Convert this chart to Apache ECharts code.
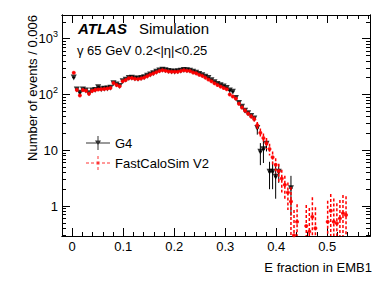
<!DOCTYPE html>
<html><head><meta charset="utf-8">
<script src="https://cdn.jsdelivr.net/npm/echarts@6/dist/echarts.min.js"></script>
<style>html,body{margin:0;padding:0;background:#fff}#c{width:390px;height:281px}</style>
</head><body><div id="c"></div>
<script>
// Bin centres (bin width 0.006)
const binCenters = [
 0.003,0.009,0.015,0.021,0.027,0.033,0.039,0.045,0.051,0.057,
 0.063,0.069,0.075,0.081,0.087,0.093,0.099,0.105,0.111,0.117,
 0.123,0.129,0.135,0.141,0.147,0.153,0.159,0.165,0.171,0.177,
 0.183,0.189,0.195,0.201,0.207,0.213,0.219,0.225,0.231,0.237,
 0.243,0.249,0.255,0.261,0.267,0.273,0.279,0.285,0.291,0.297,
 0.303,0.309,0.315,0.321,0.327,0.333,0.339,0.345,0.351,0.357,
 0.363,0.369,0.375,0.381,0.387,0.393,0.399,0.405,0.411,0.417,
 0.423,0.429,0.435,0.441,0.447,0.453,0.459,0.465,0.471,0.477,
 0.483,0.489,0.495,0.501,0.507,0.513,0.519,0.525,0.531,0.537];

const g4Values = [
 200,122,107,122,118,105,118,120,135,124,
 126,128,132,158,150,142,172,184,196,198,
 192,190,196,202,215,228,240,255,268,278,
 270,262,258,256,260,266,274,270,265,255,
 245,232,220,208,196,180,166,154,146,138,
 130,118,112,86,70,60,51,46,41,37,
 25,9.4,10.4,13,4.1,4.1,3.35,4.1,null,null,
 null,2.07,null,null,null,null,null,null,null,null,
 null,null,null,null,null,null,null,null,null,null];
const g4Errors = [
 10,6,6,6,6,6,6,6,7,6,
 6,6,6,7,7,7,7,7,7,7,
 7,7,7,8,8,8,8,8,8,8,
 8,8,8,8,8,8,8,8,8,8,
 8,8,8,7,7,7,7,6,6,6,
 6,6,6,5,5,4,4,4,3,3,
 6,4,4.5,3.5,2.1,2.1,2,1.5,null,null,
 null,1.4,null,null,null,null,null,null,null,null,
 null,null,null,null,null,null,null,null,null,null];

const fcsValues = [
 245,120,96,120,116,103,115,120,122,124,
 125,127,130,160,148,140,172,182,195,196,
 190,188,193,200,212,225,236,250,262,272,
 265,258,255,254,255,262,270,265,262,248,
 240,225,215,200,185,172,158,147,138,130,
 124,100,92,84,68,58,51,45,40,36,
 28,20.5,16.5,13.5,10.5,7.5,5.5,4.2,3.1,2.4,
 1.75,1.2,0.3,0.52,null,null,0.44,0.35,0.64,0.4,
 null,null,null,0.52,0.82,0.52,0.49,0.6,0.74,0.69];
const fcsErrors = [
 12,7,6,7,7,6,7,7,7,7,
 7,7,7,8,8,8,8,9,9,9,
 9,9,9,9,9,10,10,10,10,10,
 10,10,10,10,10,10,10,10,10,10,
 10,10,9,9,9,9,8,8,8,7,
 7,6,6,6,5,5,5,4,4,4,
 4,4,3.5,3,2.5,2,1.7,1.5,1.35,1.1,
 0.9,1.0,0.55,0.55,null,null,0.6,0.57,0.79,0.55,
 null,null,null,0.72,0.82,0.85,0.63,0.68,0.83,0.81];

const xMajorTicks = [0, 0.1, 0.2, 0.3, 0.4, 0.5];
const xMinorTicks = [0.02,0.04,0.06,0.08,0.12,0.14,0.16,0.18,0.22,0.24,0.26,0.28,
  0.32,0.34,0.36,0.38,0.42,0.44,0.46,0.48,0.52,0.54,0.56,0.58];
const yMajorTicks = [1, 10, 100, 1000];
const yMinorTicks = [0.3,0.4,0.5,0.6,0.7,0.8,0.9,2,3,4,5,6,7,8,9,
  20,30,40,50,60,70,80,90,200,300,400,500,600,700,800,900,2000];

const X_MIN = -0.02, X_MAX = 0.584, Y_MIN = 0.29, Y_MAX = 2650, HALF_BIN = 0.003;
const FONT = '"Liberation Sans", Arial, Helvetica, sans-serif';

function points(vals, errs) {
  const out = [];
  vals.forEach((v, i) => { if (v != null) out.push([binCenters[i], v, errs[i] || 0]); });
  return out;
}
const g4Pts = points(g4Values, g4Errors);
const fcsPts = points(fcsValues, fcsErrors);

function errRenderer(color, dash, width) {
  return function (params, api) {
    const x = api.value(0), y = api.value(1), e = api.value(2);
    const lo = Math.max(y - e, Y_MIN), hi = Math.min(y + e, Y_MAX);
    const pT = api.coord([x, hi]), pB = api.coord([x, lo]);
    const pL = api.coord([x - HALF_BIN, y]), pR = api.coord([x + HALF_BIN, y]);
    const st = { stroke: color, lineWidth: width, lineDash: dash };
    return { type: 'group', children: [
      { type: 'line', shape: { x1: pT[0], y1: pT[1], x2: pB[0], y2: pB[1] }, style: st },
      { type: 'line', shape: { x1: pL[0], y1: pL[1], x2: pR[0], y2: pR[1] }, style: st }
    ]};
  };
}

function xAxisDef(pos, ticks, len, labels) {
  return { type: 'value', min: X_MIN, max: X_MAX, position: pos,
    axisLine: { show: true, onZero: false, lineStyle: { color: '#000', width: 1 } },
    axisTick: { show: true, inside: true, length: len, customValues: ticks, lineStyle: { color: '#000', width: 1 } },
    axisLabel: labels ? { show: true, customValues: ticks, margin: 4, color: '#000', fontSize: 13, fontFamily: FONT,
      formatter: v => String(v) } : { show: false },
    splitLine: { show: false } };
}
function yAxisDef(pos, ticks, len, labels) {
  return { type: 'log', logBase: 10, min: Y_MIN, max: Y_MAX, position: pos,
    axisLine: { show: true, onZero: false, lineStyle: { color: '#000', width: 1 } },
    axisTick: { show: true, inside: true, length: len, customValues: ticks, lineStyle: { color: '#000', width: 1 } },
    axisLabel: labels ? { show: true, customValues: ticks, margin: 4, color: '#000', fontSize: 13, fontFamily: FONT,
      formatter: v => {
        if (v === 1) return '1';
        if (v === 10) return '10';
        return '10{sup|' + Math.round(Math.log10(v)) + '}';
      },
      rich: { sup: { fontSize: 9, fontFamily: FONT, color: '#000', padding: [0, 0, 9, 0] } } } : { show: false },
    splitLine: { show: false }, minorTick: { show: false } };
}

const chart = echarts.init(document.getElementById('c'), null, { renderer: 'svg' });
chart.setOption({
  animation: false,
  backgroundColor: '#fff',
  textStyle: { fontFamily: FONT },
  grid: { left: 62, right: 20, top: 15, bottom: 45, containLabel: false },
  xAxis: [
    xAxisDef('bottom', xMajorTicks, 8, true),
    xAxisDef('bottom', xMinorTicks, 4, false),
    xAxisDef('top', xMajorTicks, 8, false),
    xAxisDef('top', xMinorTicks, 4, false)
  ],
  yAxis: [
    yAxisDef('left', yMajorTicks, 8, true),
    yAxisDef('left', yMinorTicks, 4, false),
    yAxisDef('right', yMajorTicks, 8, false),
    yAxisDef('right', yMinorTicks, 4, false)
  ],
  legend: {
    orient: 'vertical', left: 81, top: 131, itemWidth: 24, itemHeight: 14, itemGap: 6,
    selectedMode: false, textStyle: { fontSize: 13, color: '#000', fontFamily: FONT },
    data: [
      { name: 'G4', icon: 'path://M0 6.5H24V7.5H0Z M11.5 0H12.5V14H11.5Z M9 4.5H15L12 9.5Z' },
      { name: 'FastCaloSim V2', icon: 'path://M0 6.5h3v1h-3z M5 6.5h3v1h-3z M16 6.5h3v1h-3z M21 6.5h3v1h-3z M11.5 0h1v3h-1z M11.5 11h1v3h-1z M10.5 5.5h3v3h-3z' }
    ]
  },
  series: [
    { type: 'custom', name: 'G4 err', xAxisIndex: 0, yAxisIndex: 0, data: g4Pts, clip: true, silent: true, z: 2,
      encode: { x: 0, y: 1 }, renderItem: errRenderer('#000', null, 1) },
    { type: 'scatter', name: 'G4', xAxisIndex: 0, yAxisIndex: 0, data: g4Pts.map(p => [p[0], p[1]]), clip: true, z: 3,
      symbol: 'triangle', symbolRotate: 180, symbolSize: 6, itemStyle: { color: '#000' } },
    { type: 'custom', name: 'FCS err', xAxisIndex: 0, yAxisIndex: 0, data: fcsPts, clip: true, silent: true, z: 4,
      encode: { x: 0, y: 1 }, renderItem: errRenderer('#ff0000', [3, 2], 1.5) },
    { type: 'scatter', name: 'FastCaloSim V2', xAxisIndex: 0, yAxisIndex: 0, data: fcsPts.map(p => [p[0], p[1]]), clip: true, z: 5,
      symbol: 'circle', symbolSize: 4, itemStyle: { color: '#ff0000' } }
  ],
  graphic: [
    { type: 'text', x: 78, y: 28, style: { text: 'ATLAS', font: 'italic bold 15px ' + FONT, fill: '#000', align: 'left', verticalAlign: 'middle' } },
    { type: 'text', x: 139, y: 28, style: { text: 'Simulation', font: '15px ' + FONT, fill: '#000', align: 'left', verticalAlign: 'middle' } },
    { type: 'text', x: 77, y: 50, style: { text: 'γ 65 GeV 0.2<|η|<0.25', font: '13px ' + FONT, fill: '#000', align: 'left', verticalAlign: 'middle' } },
    { type: 'text', x: 372, y: 267, style: { text: 'E fraction in EMB1', font: '13px ' + FONT, fill: '#000', align: 'right', verticalAlign: 'middle' } },
    { type: 'text', x: 32, y: 15, rotation: Math.PI / 2, style: { text: 'Number of events / 0.006', font: '13px ' + FONT, fill: '#000', align: 'right', verticalAlign: 'middle' } }
  ]
});
</script>
</body></html>
